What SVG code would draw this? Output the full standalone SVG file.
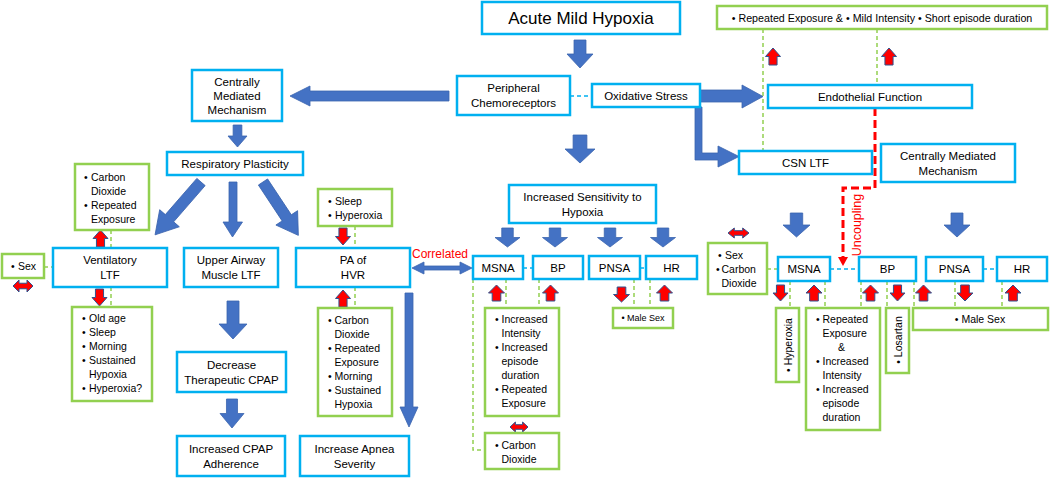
<svg xmlns="http://www.w3.org/2000/svg" width="1050" height="478" viewBox="0 0 1050 478">
<defs>
<style>
text{font-family:"Liberation Sans",Arial,sans-serif;fill:#000}
.bb{fill:#fff;stroke:#00B0F0;stroke-width:2.5}
.gb{fill:#fff;stroke:#92D050;stroke-width:2.5}
.t{font-size:11.5px;text-anchor:middle}
.l{font-size:10.5px}
.ba{fill:#4472C4;stroke:#3B64AE;stroke-width:0.8}
.ra{fill:#FF0000;stroke:#2F528F;stroke-width:1}
.gd{fill:none;stroke:#92D050;stroke-width:1.5;stroke-dasharray:4 3}
.cd{fill:none;stroke:#00B0F0;stroke-width:1.5;stroke-dasharray:4 3}
.red{fill:#FF0000}
</style>
<path id="da" d="M-0.23,0H0.23V0.5H0.5L0,1L-0.5,0.5H-0.23Z" vector-effect="non-scaling-stroke"/>
<path id="rd" d="M-0.27,0H0.27V0.5H0.5L0,1L-0.5,0.5H-0.27Z" vector-effect="non-scaling-stroke"/>
<path id="dh" d="M0,0.5L0.3,0V0.27H0.7V0L1,0.5L0.7,1V0.73H0.3V1Z" vector-effect="non-scaling-stroke"/>
</defs>
<rect width="1050" height="478" fill="#fff"/>

<g id="connectors">
<!-- dashed links -->
<path class="gd" d="M763,29V151M877,29V85M111,230V248M111,287V307M44,267H53M355,226V248M355,287V308M473,279V450H485M506,279V308M539,279V308M634,279V308M650,279V308M767,269H778M790,281V308M825,281V308M861,281V308M887,281V308M914,281V308M955,281V308M1002,281V308"/>
<path class="cd" d="M570,96H592M523,268H533M640,268H646M830,269H859M983,269H997"/>
<!-- blue block arrows -->
<use href="#da" class="ba" transform="translate(580,40) scale(26,28)"/>
<use href="#da" class="ba" transform="translate(580,135) scale(30,28)"/>
<use href="#da" class="ba" transform="translate(507.5,228) scale(25,19)"/>
<use href="#da" class="ba" transform="translate(555,228) scale(25,19)"/>
<use href="#da" class="ba" transform="translate(610,228) scale(25,19)"/>
<use href="#da" class="ba" transform="translate(663,228) scale(25,19)"/>
<use href="#da" class="ba" transform="translate(237.5,125) scale(19,22)"/>
<use href="#da" class="ba" transform="translate(796.5,213) scale(27,24)"/>
<use href="#da" class="ba" transform="translate(957,213) scale(26,24)"/>
<use href="#da" class="ba" transform="translate(232,399) scale(24,29)"/>
<polygon class="ba" points="227,301 239,301 239,324 247,324 233,339 219,324 227,324"/>
<polygon class="ba" points="229,182 237,182 237,222 242.5,222 232.5,237 223,222 229,222"/>
<polygon class="ba" points="405,293 413,293 413,407 418,407 409,427 400,407 405,407"/>
<polygon class="ba" transform="translate(201,182) rotate(41)" points="-5.5,0 5.5,0 5.5,48 13,48 0,70 -13,48 -5.5,48"/>
<polygon class="ba" transform="translate(263,182) rotate(-33.5)" points="-5.5,0 5.5,0 5.5,43 13,43 0,64 -13,43 -5.5,43"/>
<polygon class="ba" points="449,91 310,91 310,86 290,96 310,106 310,101 449,101"/>
<polygon class="ba" points="700,90 742,90 742,85 763,96.5 742,108 742,102 700,102"/>
<polygon class="ba" points="695,107 702,107 702,153 718,153 718,146 739,156.5 718,167 718,160 695,160"/>
<polygon class="ba" points="412,268 424,262 424,266 460,266 460,262 472,268 460,274 460,270 424,270 424,274"/>
<!-- uncoupling -->
<path d="M875,108V188H843V258" fill="none" stroke="#FF0000" stroke-width="3" stroke-dasharray="8 4"/>
<polygon class="red" points="838,257 848,257 843,266"/>
<!-- red arrows -->
<use href="#rd" class="ra" transform="translate(773,65) scale(15,-17)"/>
<use href="#rd" class="ra" transform="translate(889,65) scale(15,-17)"/>
<use href="#rd" class="ra" transform="translate(100.5,247) scale(15,-17)"/>
<use href="#rd" class="ra" transform="translate(99.5,289) scale(15,17)"/>
<use href="#rd" class="ra" transform="translate(343,228) scale(15,17)"/>
<use href="#rd" class="ra" transform="translate(343,307) scale(15,-17)"/>
<use href="#rd" class="ra" transform="translate(496.5,301) scale(16,-16)"/>
<use href="#rd" class="ra" transform="translate(550.5,301) scale(16,-16)"/>
<use href="#rd" class="ra" transform="translate(621.5,287) scale(16,15)"/>
<use href="#rd" class="ra" transform="translate(664.5,301) scale(16,-16)"/>
<use href="#rd" class="ra" transform="translate(780.5,285) scale(15,16)"/>
<use href="#rd" class="ra" transform="translate(814,301) scale(16,-16)"/>
<use href="#rd" class="ra" transform="translate(870.5,301) scale(16,-16)"/>
<use href="#rd" class="ra" transform="translate(897.5,285) scale(15,16)"/>
<use href="#rd" class="ra" transform="translate(923.5,301) scale(16,-16)"/>
<use href="#rd" class="ra" transform="translate(965,285) scale(16,16)"/>
<use href="#rd" class="ra" transform="translate(1013,301) scale(16,-16)"/>
<use href="#dh" class="ra" transform="translate(13,280) scale(20,12)"/>
<use href="#dh" class="ra" transform="translate(510,422) scale(18,10)"/>
<use href="#dh" class="ra" transform="translate(728,228) scale(21,10)"/>
<text x="440" y="258" font-size="12" text-anchor="middle" class="red" style="fill:#FF0000">Correlated</text>
<text transform="translate(856,225) rotate(-90)" y="4.5" font-size="12.5" text-anchor="middle" style="fill:#FF0000">Uncoupling</text>
</g>

<g id="acute"><rect class="bb" x="482" y="2" width="198" height="32"/><text x="581" y="24" font-size="17" text-anchor="middle">Acute Mild Hypoxia</text></g>
<g id="peripheral"><rect class="bb" x="457" y="76" width="113" height="39"/><text class="t" x="513.5" y="92">Peripheral</text><text class="t" x="513.5" y="107">Chemoreceptors</text></g>
<g id="oxidative"><rect class="bb" x="592" y="84" width="108" height="23"/><text class="t" x="646" y="99.5">Oxidative Stress</text></g>
<g id="endothelial"><rect class="bb" x="768" y="85" width="204" height="23"/><text class="t" x="870" y="100.5">Endothelial Function</text></g>
<g id="csn"><rect class="bb" x="739" y="151" width="133" height="23"/><text class="t" x="805.5" y="166.5">CSN LTF</text></g>
<g id="cmm-right"><rect class="bb" x="881" y="144" width="134" height="38"/><text class="t" x="948" y="159.5">Centrally Mediated</text><text class="t" x="948" y="174.5">Mechanism</text></g>
<g id="cmm-left"><rect class="bb" x="192" y="70" width="90" height="51"/><text class="t" x="237" y="85.5">Centrally</text><text class="t" x="237" y="99.5">Mediated</text><text class="t" x="237" y="113.5">Mechanism</text></g>
<g id="resp"><rect class="bb" x="167" y="152" width="136" height="23"/><text class="t" x="235" y="167.5">Respiratory Plasticity</text></g>
<g id="sens"><rect class="bb" x="509" y="185" width="147" height="38"/><text class="t" x="582.5" y="200.5">Increased Sensitivity to</text><text class="t" x="582.5" y="215.5">Hypoxia</text></g>
<g id="msna-m"><rect class="bb" x="473" y="256" width="50" height="23"/><text class="t" x="498" y="271.5">MSNA</text></g>
<g id="bp-m"><rect class="bb" x="533" y="256" width="50" height="23"/><text class="t" x="558" y="271.5">BP</text></g>
<g id="pnsa-m"><rect class="bb" x="589" y="256" width="51" height="23"/><text class="t" x="614.5" y="271.5">PNSA</text></g>
<g id="hr-m"><rect class="bb" x="646" y="256" width="51" height="23"/><text class="t" x="671.5" y="271.5">HR</text></g>
<g id="vent"><rect class="bb" x="53" y="248" width="114" height="39"/><text class="t" x="110" y="264">Ventilatory</text><text class="t" x="110" y="279">LTF</text></g>
<g id="ua"><rect class="bb" x="184" y="248" width="94" height="39"/><text class="t" x="231" y="264">Upper Airway</text><text class="t" x="231" y="279">Muscle LTF</text></g>
<g id="pa"><rect class="bb" x="296" y="248" width="114" height="39"/><text class="t" x="353" y="264">PA of</text><text class="t" x="353" y="279">HVR</text></g>
<g id="decrease"><rect class="bb" x="177" y="352" width="109" height="40"/><text class="t" x="231.5" y="368.5">Decrease</text><text class="t" x="231.5" y="383.5">Therapeutic CPAP</text></g>
<g id="adherence"><rect class="bb" x="177" y="436" width="108" height="40"/><text class="t" x="231" y="452.5">Increased CPAP</text><text class="t" x="231" y="467.5">Adherence</text></g>
<g id="apnea"><rect class="bb" x="300" y="436" width="109" height="40"/><text class="t" x="354.5" y="452.5">Increase Apnea</text><text class="t" x="354.5" y="467.5">Severity</text></g>
<g id="msna-r"><rect class="bb" x="778" y="257" width="52" height="24"/><text class="t" x="804" y="273">MSNA</text></g>
<g id="bp-r"><rect class="bb" x="859" y="257" width="57" height="24"/><text class="t" x="887.5" y="273">BP</text></g>
<g id="pnsa-r"><rect class="bb" x="926" y="257" width="57" height="24"/><text class="t" x="954.5" y="273">PNSA</text></g>
<g id="hr-r"><rect class="bb" x="997" y="257" width="50" height="24"/><text class="t" x="1022" y="273">HR</text></g>

<g id="g-top"><rect class="gb" x="717" y="6" width="330" height="23"/><text x="882" y="21.5" font-size="10.7" text-anchor="middle">• Repeated Exposure &amp; • Mild Intensity • Short episode duration</text></g>
<g id="g-co2-left"><rect class="gb" x="75" y="164" width="74" height="66"/><text class="l"><tspan x="84" y="181">•</tspan><tspan x="91">Carbon</tspan><tspan x="91" y="195">Dioxide</tspan><tspan x="84" y="209">•</tspan><tspan x="91">Repeated</tspan><tspan x="91" y="223">Exposure</tspan></text></g>
<g id="g-sex-left"><rect class="gb" x="2" y="254" width="42" height="24"/><text class="l"><tspan x="11" y="270">•</tspan><tspan x="18">Sex</tspan></text></g>
<g id="g-oldage"><rect class="gb" x="72" y="307" width="80" height="94"/><text class="l"><tspan x="82" y="322">•</tspan><tspan x="89">Old age</tspan><tspan x="82" y="336">•</tspan><tspan x="89">Sleep</tspan><tspan x="82" y="350">•</tspan><tspan x="89">Morning</tspan><tspan x="82" y="364">•</tspan><tspan x="89">Sustained</tspan><tspan x="89" y="378">Hypoxia</tspan><tspan x="82" y="392">•</tspan><tspan x="89">Hyperoxia?</tspan></text></g>
<g id="g-sleep"><rect class="gb" x="318" y="189" width="74" height="37"/><text class="l"><tspan x="328" y="205">•</tspan><tspan x="335">Sleep</tspan><tspan x="328" y="219">•</tspan><tspan x="335">Hyperoxia</tspan></text></g>
<g id="g-pa-below"><rect class="gb" x="318" y="308" width="74" height="108"/><text class="l"><tspan x="328" y="323.5">•</tspan><tspan x="334.5">Carbon</tspan><tspan x="334.5" y="337.5">Dioxide</tspan><tspan x="328" y="351.5">•</tspan><tspan x="334.5">Repeated</tspan><tspan x="334.5" y="365.5">Exposure</tspan><tspan x="328" y="379.5">•</tspan><tspan x="334.5">Morning</tspan><tspan x="328" y="393.5">•</tspan><tspan x="334.5">Sustained</tspan><tspan x="334.5" y="407.5">Hypoxia</tspan></text></g>
<g id="g-mid-inc"><rect class="gb" x="485" y="308" width="74" height="108"/><text class="l"><tspan x="495" y="323">•</tspan><tspan x="501.5">Increased</tspan><tspan x="501.5" y="337">Intensity</tspan><tspan x="495" y="351">•</tspan><tspan x="501.5">Increased</tspan><tspan x="501.5" y="365">episode</tspan><tspan x="501.5" y="379">duration</tspan><tspan x="495" y="393">•</tspan><tspan x="501.5">Repeated</tspan><tspan x="501.5" y="407">Exposure</tspan></text></g>
<g id="g-mid-co2"><rect class="gb" x="485" y="433" width="74" height="36"/><text class="l"><tspan x="495" y="448.5">•</tspan><tspan x="501.5">Carbon</tspan><tspan x="501.5" y="462.5">Dioxide</tspan></text></g>
<g id="g-mid-male"><rect class="gb" x="613" y="308" width="60" height="20"/><text x="643" y="321" font-size="9" text-anchor="middle">• Male Sex</text></g>
<g id="g-right-sex"><rect class="gb" x="708" y="243" width="59" height="51"/><text class="l"><tspan x="718" y="258.5">•</tspan><tspan x="725">Sex</tspan><tspan x="716" y="272.5">•</tspan><tspan x="721.5">Carbon</tspan><tspan x="721.5" y="286.5">Dioxide</tspan></text></g>
<g id="g-hyperoxia"><rect class="gb" x="776" y="308" width="23" height="74"/><text class="l" transform="translate(787.5,345) rotate(-90)" y="4" text-anchor="middle">• Hyperoxia</text></g>
<g id="g-right-rep"><rect class="gb" x="806" y="308" width="74" height="122"/><text class="l"><tspan x="816" y="323">•</tspan><tspan x="822.5">Repeated</tspan><tspan x="822.5" y="337">Exposure</tspan><tspan x="838" y="351">&amp;</tspan><tspan x="816" y="365">•</tspan><tspan x="822.5">Increased</tspan><tspan x="822.5" y="379">Intensity</tspan><tspan x="816" y="393">•</tspan><tspan x="822.5">Increased</tspan><tspan x="822.5" y="407">episode</tspan><tspan x="822.5" y="421">duration</tspan></text></g>
<g id="g-losartan"><rect class="gb" x="886" y="308" width="23" height="65"/><text class="l" transform="translate(897.5,340) rotate(-90)" y="4" text-anchor="middle">• Losartan</text></g>
<g id="g-right-male"><rect class="gb" x="913" y="308" width="135" height="22"/><text x="980" y="323" font-size="10.5" text-anchor="middle">• Male Sex</text></g>
</svg>
